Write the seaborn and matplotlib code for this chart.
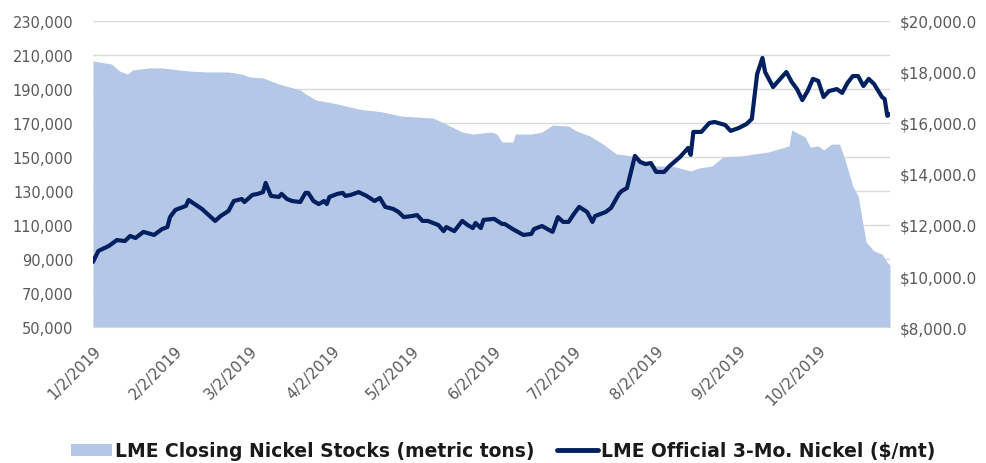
import pandas as pd
import matplotlib
matplotlib.use("Agg")
import matplotlib.pyplot as plt
import matplotlib.dates as mdates
from matplotlib.ticker import FuncFormatter
from matplotlib.patches import Patch
from matplotlib.lines import Line2D
import seaborn as sns

# --- data ---
stock_dates = [
    "2019-01-02", "2019-01-09", "2019-01-12", "2019-01-15", "2019-01-17", "2019-01-23",
    "2019-01-28", "2019-02-07", "2019-02-14", "2019-02-22", "2019-02-27", "2019-03-02",
    "2019-03-07", "2019-03-13", "2019-03-21", "2019-03-23", "2019-03-27", "2019-04-04",
    "2019-04-12", "2019-04-21", "2019-04-28", "2019-05-04", "2019-05-10", "2019-05-14",
    "2019-05-21", "2019-05-25", "2019-06-01", "2019-06-03", "2019-06-05", "2019-06-09",
    "2019-06-10", "2019-06-16", "2019-06-20", "2019-06-24", "2019-06-30", "2019-07-03",
    "2019-07-08", "2019-07-13", "2019-07-18", "2019-07-24", "2019-08-02", "2019-08-08",
    "2019-08-15", "2019-08-18", "2019-08-23", "2019-08-27", "2019-09-03", "2019-09-08",
    "2019-09-13", "2019-09-17", "2019-09-21", "2019-09-22", "2019-09-27", "2019-09-29",
    "2019-10-02", "2019-10-04", "2019-10-07", "2019-10-10", "2019-10-12", "2019-10-15",
    "2019-10-17", "2019-10-20", "2019-10-23", "2019-10-26", "2019-10-28", "2019-10-29",
]
stock_tons = [
    206500, 204700, 200600, 198800, 201200, 202400,
    202400, 200600, 200000, 200000, 198800, 197100,
    196500, 192900, 189400, 187100, 183500, 181200,
    178200, 176500, 174100, 173500, 172900, 170000,
    164700, 163500, 164700, 163500, 158800, 158800,
    163500, 163500, 164700, 168800, 168200, 165300,
    162400, 157600, 151800, 150600, 144700, 144700,
    141800, 143500, 144700, 150000, 150600, 151800,
    152900, 154700, 156500, 165900, 161800, 155900,
    156500, 154100, 157600, 157600, 148800, 132900,
    127100, 100000, 94700, 92900, 88000, 86500,
]

price_dates = [
    "2019-01-02", "2019-01-04", "2019-01-08", "2019-01-11", "2019-01-14", "2019-01-16",
    "2019-01-18", "2019-01-21", "2019-01-25", "2019-01-28", "2019-01-30", "2019-01-31",
    "2019-02-02", "2019-02-06", "2019-02-07", "2019-02-12", "2019-02-15", "2019-02-17",
    "2019-02-19", "2019-02-22", "2019-02-24", "2019-02-27", "2019-02-28", "2019-03-03",
    "2019-03-05", "2019-03-07", "2019-03-08", "2019-03-10", "2019-03-13", "2019-03-14",
    "2019-03-16", "2019-03-18", "2019-03-21", "2019-03-23", "2019-03-24", "2019-03-26",
    "2019-03-28", "2019-03-30", "2019-03-31", "2019-04-01", "2019-04-04", "2019-04-06",
    "2019-04-07", "2019-04-09", "2019-04-12", "2019-04-15", "2019-04-18", "2019-04-20",
    "2019-04-22", "2019-04-25", "2019-04-27", "2019-04-29", "2019-05-02", "2019-05-04",
    "2019-05-06", "2019-05-08", "2019-05-12", "2019-05-14", "2019-05-15", "2019-05-18",
    "2019-05-21", "2019-05-23", "2019-05-25", "2019-05-26", "2019-05-28", "2019-05-29",
    "2019-06-02", "2019-06-05", "2019-06-06", "2019-06-09", "2019-06-13", "2019-06-16",
    "2019-06-17", "2019-06-20", "2019-06-24", "2019-06-26", "2019-06-28", "2019-06-30",
    "2019-07-02", "2019-07-04", "2019-07-07", "2019-07-09", "2019-07-10", "2019-07-14",
    "2019-07-16", "2019-07-19", "2019-07-20", "2019-07-22", "2019-07-25", "2019-07-27",
    "2019-07-29", "2019-07-31", "2019-08-02", "2019-08-05", "2019-08-07", "2019-08-11",
    "2019-08-14", "2019-08-15", "2019-08-16", "2019-08-19", "2019-08-22", "2019-08-24",
    "2019-08-28", "2019-08-30", "2019-09-02", "2019-09-05", "2019-09-07", "2019-09-09",
    "2019-09-11", "2019-09-12", "2019-09-15", "2019-09-17", "2019-09-20", "2019-09-22",
    "2019-09-24", "2019-09-26", "2019-09-28", "2019-09-30", "2019-10-02", "2019-10-04",
    "2019-10-06", "2019-10-09", "2019-10-11", "2019-10-13", "2019-10-15", "2019-10-17",
    "2019-10-19", "2019-10-21", "2019-10-23", "2019-10-26", "2019-10-27", "2019-10-28",
    "2019-10-29",
]
price_usd = [
    10550, 10980, 11180, 11410, 11370, 11570,
    11490, 11730, 11610, 11840, 11920, 12310,
    12590, 12750, 12980, 12630, 12350, 12160,
    12350, 12550, 12940, 13020, 12900, 13180,
    13220, 13290, 13650, 13140, 13100, 13220,
    13020, 12940, 12900, 13260, 13260, 12940,
    12820, 12940, 12820, 13100, 13220, 13260,
    13140, 13180, 13290, 13140, 12940, 13060,
    12710, 12630, 12510, 12310, 12350, 12390,
    12160, 12160, 12000, 11760, 11920, 11760,
    12160, 12000, 11880, 12080, 11880, 12200,
    12240, 12040, 12040, 11840, 11610, 11650,
    11840, 11960, 11730, 12310, 12120, 12120,
    12430, 12710, 12510, 12120, 12350, 12510,
    12670, 13220, 13330, 13450, 14710, 14470,
    14390, 14430, 14080, 14080, 14310, 14670,
    15020, 14750, 15650, 15650, 16000, 16040,
    15920, 15690, 15800, 15960, 16160, 17920,
    18550, 18000, 17410, 17650, 18000, 17610,
    17330, 16900, 17250, 17730, 17650, 17020,
    17250, 17330, 17180, 17570, 17840, 17840,
    17450, 17730, 17530, 17020, 16940, 16280,
    16350,
]

stock_ticks = list(range(50000, 230001, 20000))
price_ticks = list(range(8000, 20001, 2000))

stock_label = "LME Closing Nickel Stocks (metric tons)"
price_label = "LME Official 3-Mo. Nickel ($/mt)"

area_color = "#B4C7E7"
line_color = "#002060"
grid_color = "#D9D9D9"
tick_color = "#595959"

sns.set_style("white")
plt.rcParams["font.family"] = ["DejaVu Sans"]

stocks = pd.DataFrame({"date": pd.to_datetime(stock_dates), "tons": stock_tons})
prices = pd.DataFrame({"date": pd.to_datetime(price_dates), "usd": price_usd})

fig = plt.figure(figsize=(9.87, 4.64), dpi=100)
ax = fig.add_axes([0.0942, 0.2931, 0.8075, 0.6595])

# area for stocks (left axis)
ax.fill_between(stocks["date"], stocks["tons"], stock_ticks[0], color=area_color, linewidth=0, zorder=2)
ax.set_ylim(stock_ticks[0], stock_ticks[-1])
ax.set_yticks(stock_ticks)
ax.yaxis.set_major_formatter(FuncFormatter(lambda v, p: f"{v:,.0f}"))
ax.grid(axis="y", color=grid_color, linewidth=1)
ax.grid(axis="x", visible=False)
ax.set_axisbelow(True)

# price line (right axis)
ax2 = ax.twinx()
sns.lineplot(data=prices, x="date", y="usd", ax=ax2, color=line_color, linewidth=3,
             solid_joinstyle="round", solid_capstyle="round")
ax2.set_ylim(price_ticks[0], price_ticks[-1])
ax2.set_yticks(price_ticks)
ax2.yaxis.set_major_formatter(FuncFormatter(lambda v, p: f"${v:,.1f}"))
ax2.set_ylabel("")
ax2.set_xlabel("")
ax2.grid(False)

# x axis: monthly ticks on the 2nd
ax.set_xlim(pd.Timestamp("2019-01-02"), pd.Timestamp("2019-10-29"))
ax.xaxis.set_major_locator(mdates.MonthLocator(bymonthday=2))
def fmt_date(v, p):
    d = mdates.num2date(v)
    return f"{d.month}/{d.day}/{d.year}"
ax.xaxis.set_major_formatter(FuncFormatter(fmt_date))
ax.set_xlabel("")
ax.set_ylabel("")

for a in (ax, ax2):
    for s in a.spines.values():
        s.set_visible(False)
ax.spines["bottom"].set_visible(True)
ax.spines["bottom"].set_color(grid_color)

ax.tick_params(axis="y", length=0, pad=14, labelsize=10.5, labelcolor=tick_color)
ax2.tick_params(axis="y", length=0, pad=7, labelsize=11, labelcolor=tick_color)
ax.tick_params(axis="x", length=0, pad=11, labelsize=11, labelcolor=tick_color)
for lab in ax.get_xticklabels():
    lab.set_rotation(45)
    lab.set_ha("right")
    lab.set_rotation_mode("anchor")

handles = [Patch(facecolor=area_color, edgecolor="none"),
           Line2D([0], [0], color=line_color, linewidth=3.5)]
fig.legend(handles, [stock_label, price_label], loc="center",
           bbox_to_anchor=(0.51, 1 - 452 / 464), ncol=2, frameon=False,
           prop={"weight": "bold", "size": 13.5},
           labelcolor="#1a1a1a", handlelength=2.2, handleheight=0.6,
           handletextpad=0.15, columnspacing=1.2)

plt.savefig("out.png", dpi=100)
plt.close()
